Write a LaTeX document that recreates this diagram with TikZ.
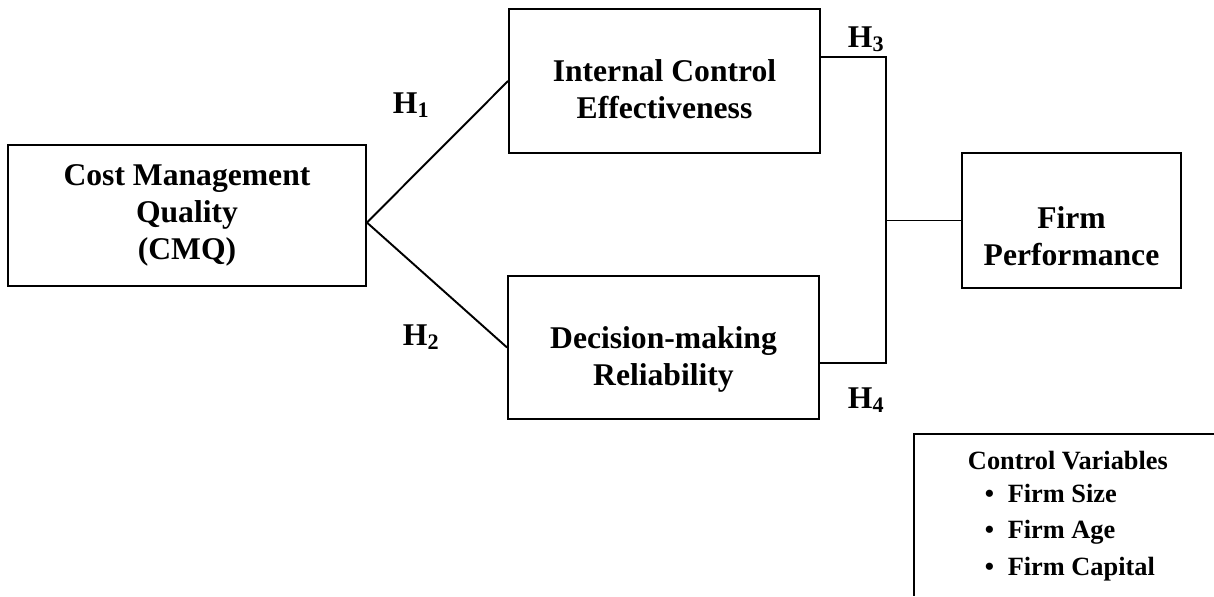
\documentclass[tikz,border=0pt]{standalone}
\usepackage{fontspec}
\setmainfont{Liberation Serif}
\begin{document}
\begin{tikzpicture}[x=0.02cm,y=-0.02cm,line width=1.1pt,
  varbox/.style={draw,inner sep=0pt},
  boxtext/.style={align=center,inner sep=0pt,font=\bfseries\fontsize{18}{21}\selectfont},
  hyp/.style={anchor=base west,inner sep=0pt,font=\bfseries\fontsize{18}{21}\selectfont},
  ctrl/.style={anchor=base west,inner sep=0pt,font=\bfseries\fontsize{15}{18}\selectfont}]
  \useasboundingbox (0,0) rectangle (1214,596);
  % constructs
  \node[varbox,minimum width=7.16cm,minimum height=2.82cm] (cmq) at (187,215.5) {};
  \node[boxtext] (cmqtext) at (cmq.center) {Cost Management\\Quality\\(CMQ)};
  \node[varbox,minimum width=6.22cm,minimum height=2.88cm] (ice) at (664.5,81) {};
  \node[boxtext] (icetext) at ([yshift=-4.6pt]ice.center) {Internal Control\\Effectiveness};
  \node[varbox,minimum width=6.22cm,minimum height=2.86cm] (dmr) at (663.5,347.5) {};
  \node[boxtext] (dmrtext) at ([yshift=-6.6pt]dmr.center) {Decision-making\\Reliability};
  \node[varbox,minimum width=4.38cm,minimum height=2.7cm] (fp) at (1071.5,220.5) {};
  \node[boxtext] (fptext) at ([yshift=-8.8pt]fp.center) {Firm\\Performance};
  % paths
  \coordinate (split) at ([yshift=-4pt]cmq.east);
  \draw (split) -- (ice.west);
  \draw (split) -- (dmr.west);
  \coordinate (h3) at (886,57);
  \coordinate (h4) at (886,363);
  \draw (ice.east |- h3) -- (h3) -- (h4) -- (dmr.east |- h4);
  \draw (fp.west) -- (fp.west -| h3);
  % hypotheses
  \node[hyp] (h1lab) at (392,113) {H\textsubscript{1}};
  \node[hyp] (h2lab) at (402,345) {H\textsubscript{2}};
  \node[hyp] (h3lab) at (847,47) {H\textsubscript{3}};
  \node[hyp] (h4lab) at (847,408) {H\textsubscript{4}};
  % control variables
  \draw (1214,434) -- (914,434) -- (914,596);
  \node[ctrl] (cvtitle) at (967,469) {Control Variables};
  \node[ctrl] (cvsize) at (984,502) {\makebox[13pt][l]{\textbullet}Firm Size};
  \node[ctrl] (cvage) at (984,538) {\makebox[13pt][l]{\textbullet}Firm Age};
  \node[ctrl] (cvcap) at (984,575) {\makebox[13pt][l]{\textbullet}Firm Capital};
\end{tikzpicture}
\end{document}
